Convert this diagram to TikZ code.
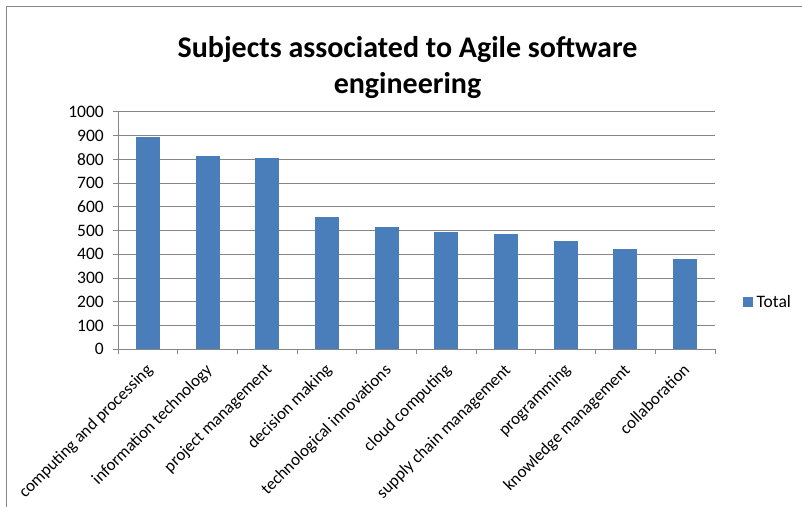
\documentclass[tikz,border=0pt]{standalone}
\usepackage{fontspec}
\setmainfont{Carlito}
\definecolor{barblue}{HTML}{4A7EBB}
\definecolor{gridgray}{HTML}{868686}

\begin{document}
\begin{tikzpicture}[x=1pt,y=1pt,
    gridline/.style={gridgray,line width=0.9pt},
    axisline/.style={gridgray,line width=0.9pt},
    ylabel/.style={anchor=east,inner sep=0pt,font=\fontsize{17.5}{21}\selectfont},
    xlabel/.style={anchor=north east,rotate=45,inner sep=0pt,font=\fontsize{17}{20}\selectfont},
    bar/.style={fill=barblue}]
  \useasboundingbox (-118,-156.7) rectangle (684,349.3);
  % chart frame
  \draw[gridgray] (690,343.3) -- (-112,343.3) -- (-112,-165);
  % title
  \node[anchor=north,align=center,inner sep=0pt,font=\fontsize{30}{36}\selectfont\bfseries]
    (title) at (289.5,313) {Subjects associated to Agile software\\engineering};
  \begin{scope}[y=0.2376pt]
    \foreach \v in {100,200,...,1000}
      \draw[gridline] (0,\v) -- (597,\v);
    \draw[axisline] (0,1000) -- (0,0) -- (597,0);
    \foreach \v in {0,100,...,1000} {
      \draw[axisline] (-5,\v) -- (0,\v);
      \node[ylabel] (y\v) at (-14,\v) {\v};
    }
    \foreach \i in {0,...,10}
      \draw[axisline] (\i*59.7,0) -- (\i*59.7,-20);
    % bars
    \foreach \v [count=\i] in {892,812,805,557,515,494,484,457,421,380}
      \fill[bar] ({(\i-0.5)*59.7-12},0) rectangle ++(24,\v);
    % category labels
    \foreach \t [count=\i] in {computing and processing,information technology,
        project management,decision making,technological innovations,cloud computing,
        supply chain management,programming,knowledge management,collaboration}
      \node[xlabel] (cat\i) at ({(\i-0.5)*59.7-3},-55) {\t};
  \end{scope}
  % legend
  \fill[bar] (624.7,42.6) rectangle (634.7,52.6);
  \node[anchor=west,inner sep=0pt,font=\fontsize{17.5}{21}\selectfont] (total) at (638.5,47.6) {Total};
\end{tikzpicture}
\end{document}
